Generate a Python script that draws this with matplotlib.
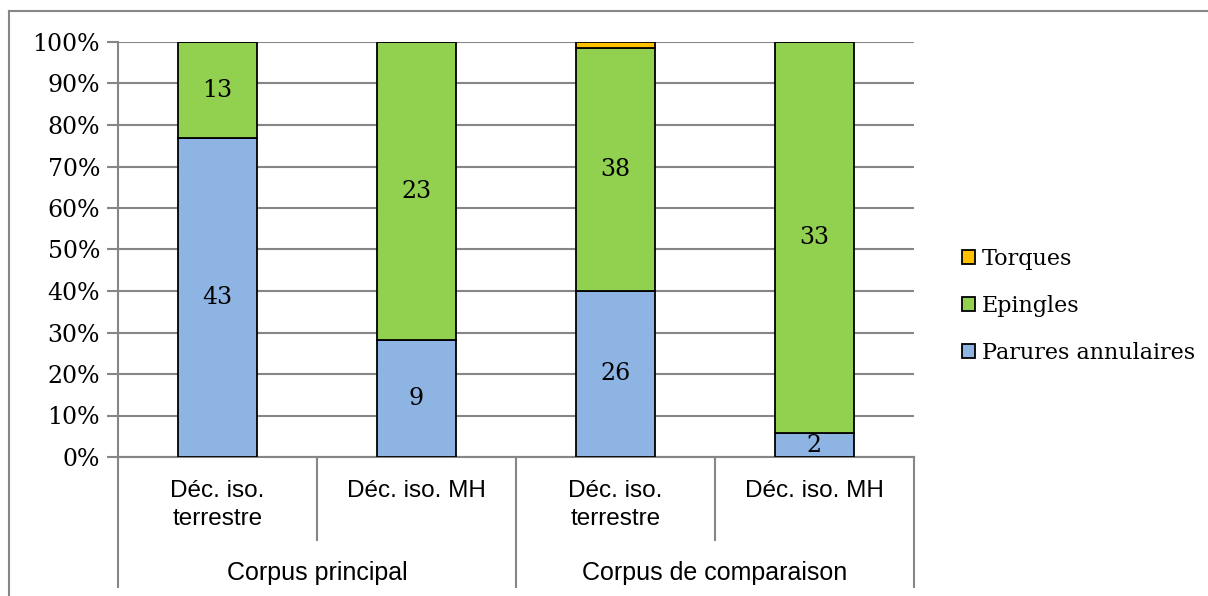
import matplotlib
matplotlib.use("Agg")
import matplotlib.pyplot as plt
from matplotlib.patches import Patch
from matplotlib.lines import Line2D
import matplotlib.transforms as mtrans
import numpy as np

# data
groups = ["Corpus principal", "Corpus de comparaison"]
categories = ["Déc. iso.\nterrestre", "Déc. iso. MH", "Déc. iso.\nterrestre", "Déc. iso. MH"]
parures = [43, 9, 26, 2]
epingles = [13, 23, 38, 33]
torques = [0, 0, 1, 0]
series_names = ["Parures annulaires", "Epingles", "Torques"]
colors = ["#8EB4E3", "#92D050", "#FFC000"]

W, H = 1208, 596
SERIF = ["DejaVu Serif"]
SANS = ["Liberation Sans", "DejaVu Sans"]
GREY = "#868686"

fig = plt.figure(figsize=(W / 100, H / 100), dpi=100)

def fx(px):
    return px / W

def fy(py):
    return 1 - py / H

ax = fig.add_axes([fx(118), fy(457), fx(914) - fx(118), fy(42) - fy(457)])

vals = np.array([parures, epingles, torques], dtype=float)
totals = vals.sum(axis=0)
pct = vals / totals * 100
x = np.arange(len(categories))

bottom = np.zeros(len(categories))
for i, (name, col) in enumerate(zip(series_names, colors)):
    ax.bar(x, pct[i], 0.4, bottom=bottom, color=col, edgecolor="black",
           linewidth=1.3, zorder=3, label=name)
    if i < 2:
        for xi, v, b, raw in zip(x, pct[i], bottom, vals[i]):
            if raw > 0:
                ax.text(xi, b + v / 2, "%d" % raw, ha="center", va="center",
                        fontsize=17, family=SERIF, zorder=4)
    bottom += pct[i]

ax.set_xlim(-0.5, len(categories) - 0.5)
ax.set_ylim(0, 100)
ax.set_yticks(np.arange(0, 101, 10))
ax.set_yticklabels(["%d%%" % v for v in range(0, 101, 10)], family=SERIF, fontsize=17)
ax.yaxis.grid(True, color=GREY, linewidth=1.5, zorder=0)
ax.tick_params(axis="y", length=8, width=1.5, color=GREY, pad=5)
ax.set_xticks([])
for s in ["top", "right"]:
    ax.spines[s].set_visible(False)
for s in ["left", "bottom"]:
    ax.spines[s].set_color(GREY)
    ax.spines[s].set_linewidth(1.5)

# multi-level category axis
tr = mtrans.blended_transform_factory(ax.transData, fig.transFigure)
for b in [0.5, 2.5]:
    fig.add_artist(Line2D([b, b], [fy(457), fy(540)], transform=tr,
                          color=GREY, lw=1.5))
for b in [-0.5, 1.5, 3.5]:
    fig.add_artist(Line2D([b, b], [fy(457), fy(587)], transform=tr,
                          color=GREY, lw=1.5))
for xi, c in zip(x, categories):
    fig.text(xi, fy(480), c, transform=tr, ha="center", va="top",
             fontsize=17.5, family=SANS, linespacing=1.35)
for gi, g in enumerate(groups):
    fig.text(gi * 2 + 0.5, fy(573), g, transform=tr, ha="center", va="center",
             fontsize=18, family=SANS)

# legend, reversed order
handles = [Patch(facecolor=c, edgecolor="black", linewidth=1.3) for c in colors]
leg = fig.legend(handles[::-1], series_names[::-1], loc="center left",
                 bbox_to_anchor=(fx(953), fy(306)), frameon=False,
                 prop={"family": SERIF, "size": 16}, handlelength=0.6,
                 handleheight=0.6, handletextpad=0.3, labelspacing=1.12,
                 borderaxespad=0)

# outer chart frame
fig.add_artist(Line2D([fx(9), 1], [fy(11), fy(11)], color=GREY, lw=1.5))
fig.add_artist(Line2D([fx(9), fx(9)], [0, fy(11)], color=GREY, lw=1.5))

fig.savefig("out.png", dpi=100)
